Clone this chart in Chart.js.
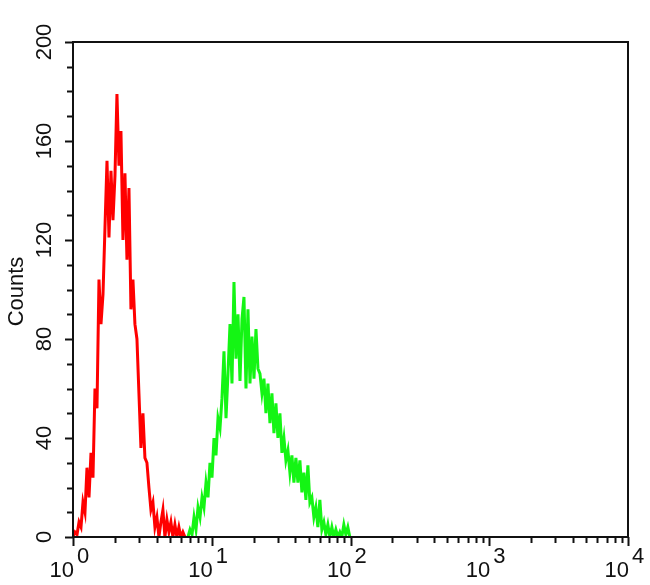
<!DOCTYPE html>
<html>
<head>
<meta charset="utf-8">
<script src="https://cdn.jsdelivr.net/npm/chart.js@4"></script>
<style>
  html, body { margin: 0; padding: 0; background: #fff; }
  #wrap { width: 650px; height: 585px; position: relative; }
</style>
</head>
<body>
<div id="wrap"><canvas id="histChart"></canvas></div>
<script>
// fluorescence intensity (x) and counts (y)
const redIntensity = [1.000, 1.034, 1.069, 1.105, 1.142, 1.180, 1.220, 1.261, 1.304, 1.348,
  1.393, 1.440, 1.489, 1.539, 1.591, 1.645, 1.700, 1.758, 1.817, 1.878,
  1.941, 2.007, 2.074, 2.144, 2.216, 2.291, 2.368, 2.448, 2.531, 2.616,
  2.704, 2.795, 2.890, 2.987, 3.088, 3.192, 3.299, 3.411, 3.526, 3.644,
  3.767, 3.894, 4.026, 4.161, 4.302, 4.447, 4.597, 4.752, 4.912, 5.077,
  5.248, 5.425, 5.608, 5.797, 5.993, 6.195, 6.404];
const redCounts = [0, 2, 1, 6, 4, 14, 10, 28, 16, 34,
  24, 60, 52, 104, 86, 98, 125, 152, 121, 148,
  128, 146, 179, 150, 164, 120, 147, 112, 141, 92,
  104, 86, 80, 58, 36, 50, 32, 30, 20, 11,
  14, 4, 8, 0, 6, 11, 0, 7, 2, 6,
  0, 5, 0, 4, 0, 2, 0];

const greenIntensity = [6.74, 6.97, 7.21, 7.45, 7.70, 7.96, 8.23, 8.51, 8.79, 9.09,
  9.40, 9.71, 10.04, 10.38, 10.73, 11.09, 11.47, 11.85, 12.25, 12.67,
  13.09, 13.54, 13.99, 14.46, 14.95, 15.46, 15.98, 16.52, 17.07, 17.65,
  18.24, 18.86, 19.50, 20.15, 20.83, 21.53, 22.26, 23.01, 23.78, 24.58,
  25.41, 26.27, 27.15, 28.07, 29.01, 29.99, 31.00, 32.05, 33.13, 34.24,
  35.40, 36.59, 37.82, 39.10, 40.41, 41.78, 43.18, 44.64, 46.14, 47.70,
  49.31, 50.97, 52.68, 54.46, 56.29, 58.19, 60.15, 62.18, 64.28, 66.44,
  68.68, 71.00, 73.39, 75.86, 78.42, 81.06, 83.79, 86.61, 89.53, 92.55,
  95.67, 98.89];
const greenCounts = [0, 3, 1, 8, 3, 12, 8, 16, 12, 22,
  16, 30, 24, 40, 33, 48, 44, 56, 75, 48,
  66, 86, 62, 103, 72, 90, 63, 88, 97, 60,
  92, 62, 81, 64, 84, 68, 66, 58, 64, 50,
  62, 46, 58, 42, 54, 40, 50, 34, 40, 31,
  35, 26, 33, 22, 32, 22, 31, 18, 26, 15,
  29, 14, 16, 8, 12, 4, 15, 3, 6, 1,
  5, 0, 4, 0, 3, 0, 2, 0, 5, 1,
  4, 0];

const xDecades = [0, 1, 2, 3, 4];
const yMajorTicks = [0, 40, 80, 120, 160, 200];
const yMinorStep = 10;
const yLabel = 'Counts';

const toPoints = (xs, ys) => xs.map((x, i) => ({ x: x, y: ys[i] }));

// frame, ticks and labels drawn from the chart's own scales
const axesPlugin = {
  id: 'flowAxes',
  afterDraw(chart) {
    const { ctx, chartArea: a, scales } = chart;
    const sx = scales.x, sy = scales.y;
    ctx.save();
    ctx.strokeStyle = '#111';
    ctx.fillStyle = '#111';
    ctx.lineWidth = 2;
    ctx.strokeRect(a.left, a.top, a.right - a.left, a.bottom - a.top);

    // y ticks
    for (let v = 0; v <= 200; v += yMinorStep) {
      const py = Math.round(sy.getPixelForValue(v)) + 0.5;
      const len = yMajorTicks.includes(v) ? 8 : 6;
      ctx.beginPath();
      ctx.moveTo(a.left - len, py);
      ctx.lineTo(a.left, py);
      ctx.stroke();
    }
    ctx.font = '22px "Liberation Sans", Arial, sans-serif';
    ctx.textAlign = 'center';
    ctx.textBaseline = 'middle';
    yMajorTicks.forEach(v => {
      const py = sy.getPixelForValue(v);
      ctx.save();
      ctx.translate(45, py);
      ctx.rotate(-Math.PI / 2);
      ctx.fillText(String(v), 0, 0);
      ctx.restore();
    });
    ctx.save();
    ctx.translate(17, (a.top + a.bottom) / 2 + 2);
    ctx.rotate(-Math.PI / 2);
    ctx.fillText(yLabel, 0, 0);
    ctx.restore();

    // x ticks (log decades with minor ticks)
    xDecades.forEach((d, i) => {
      const base = Math.pow(10, d);
      const px = Math.round(sx.getPixelForValue(base)) + 0.5;
      ctx.beginPath();
      ctx.moveTo(px, a.bottom);
      ctx.lineTo(px, a.bottom + 9);
      ctx.stroke();
      if (i < xDecades.length - 1) {
        for (let k = 2; k <= 9; k++) {
          const mx = Math.round(sx.getPixelForValue(k * base)) + 0.5;
          ctx.beginPath();
          ctx.moveTo(mx, a.bottom);
          ctx.lineTo(mx, a.bottom + 6);
          ctx.stroke();
        }
      }
    });
    ctx.textBaseline = 'alphabetic';
    ctx.font = '22px "Liberation Sans", Arial, sans-serif';
    xDecades.forEach(d => {
      const px = sx.getPixelForValue(Math.pow(10, d));
      ctx.textAlign = 'right';
      ctx.fillText('10', px + 1, a.bottom + 40);
      ctx.textAlign = 'left';
      ctx.fillText(String(d), px + 4, a.bottom + 26);
    });
    ctx.restore();
  }
};

new Chart(document.getElementById('histChart'), {
  type: 'line',
  data: {
    datasets: [{
      label: 'Control',
      data: toPoints(redIntensity, redCounts),
      borderColor: '#ff0000',
      borderWidth: 3,
      pointRadius: 0,
      tension: 0,
      fill: false
    }, {
      label: 'Sample',
      data: toPoints(greenIntensity, greenCounts),
      borderColor: '#14f514',
      borderWidth: 3,
      pointRadius: 0,
      tension: 0,
      fill: false
    }]
  },
  options: {
    responsive: true,
    maintainAspectRatio: false,
    animation: false,
    layout: { padding: { left: 73, right: 22, top: 42, bottom: 48 } },
    plugins: {
      legend: { display: false },
      tooltip: { enabled: false }
    },
    scales: {
      x: { type: 'logarithmic', min: 1, max: 10000, display: false },
      y: { type: 'linear', min: 0, max: 200, display: false }
    }
  },
  plugins: [axesPlugin]
});
</script>
</body>
</html>
